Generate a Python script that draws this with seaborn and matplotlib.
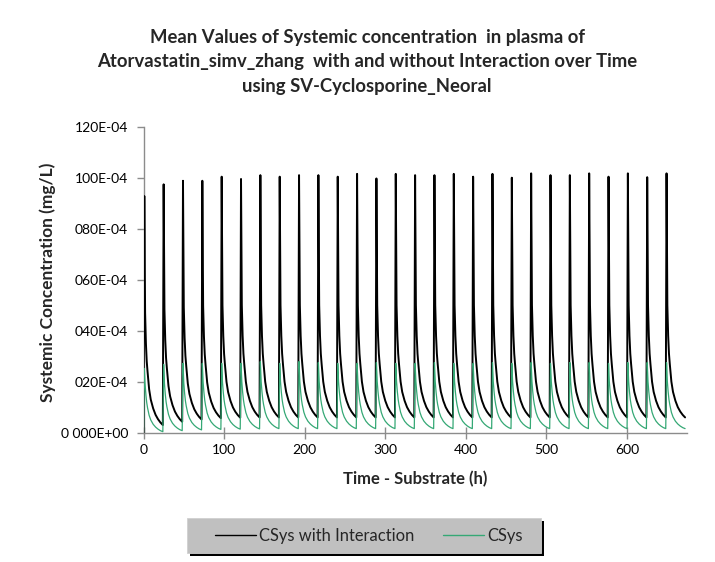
import numpy as np
import pandas as pd
import matplotlib
matplotlib.use("Agg")
import matplotlib.pyplot as plt
from matplotlib.patches import Rectangle
from matplotlib.ticker import FixedLocator, FixedFormatter
import seaborn as sns

# ---- data (concentrations in units of 1E-04 mg/L) ----
dose_interval = 24          # h
n_doses = 28
end_time = 672              # h

# peak concentration after each dose
peaks_interaction = [92.8, 97.4, 98.8, 98.8, 100.4, 99.5, 101.0, 100.4, 101.0, 101.0,
                     100.4, 101.5, 99.7, 101.5, 101.0, 101.0, 101.5, 100.4, 101.5, 100.0,
                     101.7, 101.0, 101.0, 101.7, 100.4, 101.7, 100.2, 101.7]
peaks_csys = [25.2, 26.8, 27.2, 27.2, 27.2, 27.2, 27.9, 27.2, 27.9, 27.5,
              27.2, 27.2, 27.5, 27.2, 27.2, 27.5, 27.2, 27.2, 27.5, 27.2,
              27.5, 27.2, 27.5, 27.5, 27.2, 27.5, 27.5, 27.5]

# pre-dose (trough) concentration at each dose time, plus the value at end_time
troughs_interaction = [0.0, 3.0, 4.3, 5.2, 5.7, 5.9, 6.0, 6.0, 6.0, 6.0,
                       6.0, 6.0, 6.0, 6.0, 6.0, 6.0, 6.0, 6.0, 6.0, 6.0,
                       6.0, 6.0, 6.0, 6.0, 6.0, 6.0, 6.0, 6.0, 6.0]
troughs_csys = [0.0, 0.4, 0.8, 1.1, 1.3, 1.4, 1.5, 1.6, 1.6, 1.6,
                1.6, 1.6, 1.6, 1.6, 1.6, 1.6, 1.6, 1.6, 1.6, 1.6,
                1.6, 1.6, 1.6, 1.6, 1.6, 1.6, 1.6, 1.6, 1.6]

# within-interval decline after the peak (steady state), hours after dose
tail_hours = [2, 3, 4, 5, 7, 9, 12, 15, 18, 21]
tail_interaction = [50.0, 38.0, 31.0, 27.0, 20.0, 16.0, 12.5, 10.0, 8.3, 7.0]
tail_csys = [20.0, 16.0, 13.0, 11.0, 8.0, 6.2, 4.5, 3.4, 2.6, 2.0]
tail_trough_interaction = 6.0
tail_trough_csys = 1.6
peak_hour = 1

series_labels = ["CSys with Interaction", "CSys"]
y_tick_values = [0, 20, 40, 60, 80, 100, 120]
y_tick_labels = ["0 000E+00", "020E-04", "040E-04", "060E-04", "080E-04", "100E-04", "120E-04"]
x_tick_values = [0, 100, 200, 300, 400, 500, 600]


def build_profile(peaks, troughs, tail, tail_trough):
    times, conc = [], []
    for i in range(n_doses):
        t0 = i * dose_interval
        times += [t0, t0 + peak_hour]
        conc += [troughs[i], peaks[i]]
        shift = troughs[i + 1] - tail_trough
        times += [t0 + h for h in tail_hours]
        conc += [c + shift for c in tail]
    times.append(end_time)
    conc.append(troughs[-1])
    return times, conc


t_int, c_int = build_profile(peaks_interaction, troughs_interaction,
                             tail_interaction, tail_trough_interaction)
t_cs, c_cs = build_profile(peaks_csys, troughs_csys, tail_csys, tail_trough_csys)

df = pd.concat([
    pd.DataFrame({"Time": t_int, "Conc": np.array(c_int) * 1e-4, "Series": series_labels[0]}),
    pd.DataFrame({"Time": t_cs, "Conc": np.array(c_cs) * 1e-4, "Series": series_labels[1]}),
], ignore_index=True)

# ---- style ----
sns.set_theme(style="white")
plt.rcParams["font.family"] = ["Lato", "DejaVu Sans"]

colors = {series_labels[0]: "#000000", series_labels[1]: "#35a875"}
widths = {series_labels[0]: 1.4, series_labels[1]: 0.9}

W, H = 715, 562
fig = plt.figure(figsize=(W / 100, H / 100), dpi=100)
ax = fig.add_axes([143.5 / W, 1 - 432.7 / H, (686.7 - 143.5) / W, (432.7 - 126.7) / H])

for name in series_labels:
    sns.lineplot(data=df[df["Series"] == name], x="Time", y="Conc", color=colors[name],
                 linewidth=widths[name], estimator=None, sort=False, ax=ax, label=name,
                 legend=False, zorder=3)

ax.set_xlim(0, 674)
ax.set_ylim(0, 0.012)
ax.xaxis.set_major_locator(FixedLocator(x_tick_values))
ax.yaxis.set_major_locator(FixedLocator([v * 1e-4 for v in y_tick_values]))
ax.yaxis.set_major_formatter(FixedFormatter(y_tick_labels))

for side in ["top", "right"]:
    ax.spines[side].set_visible(False)
for side in ["left", "bottom"]:
    ax.spines[side].set_color("#8c8c8c")
    ax.spines[side].set_linewidth(1.0)
    ax.spines[side].set_zorder(1)

ax.tick_params(axis="x", direction="inout", length=8, width=1, color="#8c8c8c",
               labelsize=10, labelcolor="#000000", pad=4)
ax.tick_params(axis="y", direction="out", length=5, width=1, color="#8c8c8c",
               labelsize=10, labelcolor="#000000", pad=6)
ax.tick_params(bottom=True, left=True)

ax.set_xlabel("Time - Substrate (h)", fontsize=12, fontweight="bold")
ax.set_ylabel("Systemic Concentration (mg/L)", fontsize=12.5, fontweight="bold")
ax.xaxis.set_label_coords(0.5, -0.125)
ax.yaxis.set_label_coords(-0.162, 0.49)

fig.text(367 / W, 1 - 62 / H,
         "Mean Values of Systemic concentration  in plasma of\n"
         "Atorvastatin_simv_zhang  with and without Interaction over Time\n"
         "using SV-Cyclosporine_Neoral",
         ha="center", va="center", fontsize=13.3, fontweight="bold", linespacing=1.55)

# legend panel: grey box with a solid black drop shadow
box_x0, box_x1, box_y0, box_y1 = 187, 541, 518, 553
fig.patches.append(Rectangle(((box_x0 + 3) / W, 1 - (box_y1 + 3) / H),
                             (box_x1 - box_x0) / W, (box_y1 - box_y0) / H,
                             transform=fig.transFigure, facecolor="black",
                             edgecolor="none", zorder=1))
fig.patches.append(Rectangle((box_x0 / W, 1 - box_y1 / H),
                             (box_x1 - box_x0) / W, (box_y1 - box_y0) / H,
                             transform=fig.transFigure, facecolor="#c0c0c0",
                             edgecolor="#d0d0d0", linewidth=0.6, zorder=2))

handles = ax.get_lines()[:2]
leg = fig.legend(handles, series_labels, loc="center left",
                 bbox_to_anchor=(215 / W, 1 - 535.5 / H), ncol=2,
                 frameon=False, fontsize=11.9, handlelength=2.5, handletextpad=0.15,
                 columnspacing=1.75, borderpad=0, borderaxespad=0)
for line in leg.get_lines():
    line.set_linewidth(1.0)
leg.set_zorder(5)

fig.savefig("out.png", dpi=100, facecolor="white")
